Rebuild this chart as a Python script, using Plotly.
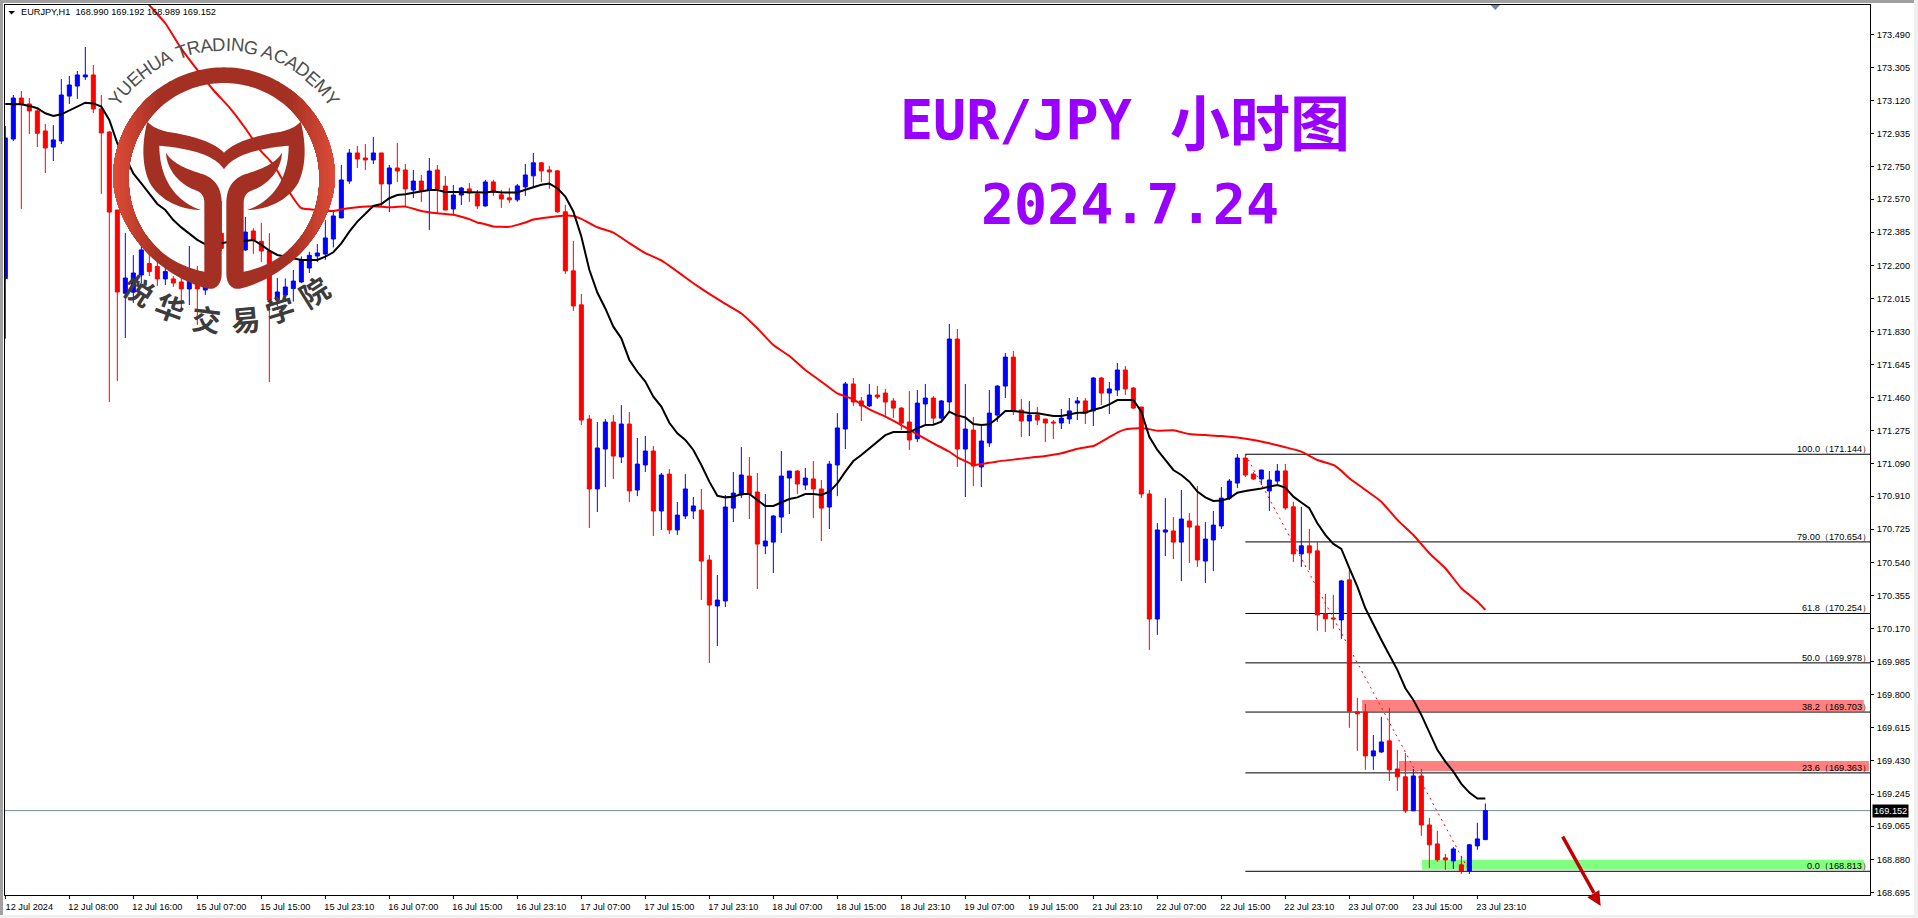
import numpy as np
import plotly.graph_objects as go

opens = [
172.126,172.906,173.135,173.102,173.063,172.951,172.861,172.895,173.146,173.202,
173.253,173.264,173.074,172.945,172.509,172.044,172.050,172.146,172.210,172.193,
172.124,172.124,172.107,172.068,172.118,172.062,172.240,172.379,172.380,172.330,
172.286,172.392,172.334,172.280,172.006,172.034,172.070,172.107,172.185,172.252,
172.263,172.347,172.465,172.671,172.828,172.800,172.789,172.828,172.655,172.744,
172.733,172.621,172.671,172.621,172.733,172.643,172.515,172.593,172.627,172.599,
172.532,172.666,172.594,172.577,172.566,172.638,172.700,172.773,172.733,172.728,
172.499,172.169,171.979,171.341,170.950,171.173,171.324,171.129,171.313,170.944,
171.084,171.162,170.827,171.033,170.721,170.799,170.827,170.832,170.553,170.296,
170.324,170.843,170.916,171.022,170.933,170.631,170.653,170.793,171.011,171.050,
170.972,171.006,170.950,170.849,171.084,171.285,171.537,171.442,171.414,171.475,
171.486,171.442,171.402,171.324,171.231,171.425,171.458,171.346,171.436,171.788,
171.173,171.279,171.073,171.207,171.363,171.525,171.687,171.391,171.330,171.363,
171.341,171.324,171.319,171.341,171.430,171.442,171.386,171.570,171.486,171.503,
171.615,171.514,171.408,170.922,170.223,170.709,170.715,170.653,170.771,170.743,
170.547,170.665,170.743,170.899,170.983,171.123,171.033,171.006,170.939,170.994,
171.051,170.850,170.587,170.632,170.604,170.252,170.229,170.218,170.442,169.704,
169.704,169.458,169.480,169.542,169.385,169.341,169.151,169.346,169.072,168.966,
168.888,168.871,168.849,168.815,168.955,168.990]

highs = [
172.979,173.152,173.174,173.135,173.074,172.990,172.984,173.241,173.258,173.286,
173.420,173.320,173.152,172.951,172.509,172.381,172.257,172.380,172.300,172.250,
172.200,172.140,172.130,172.308,172.196,172.118,172.360,172.560,172.440,172.450,
172.470,172.407,172.437,172.380,172.130,172.127,172.174,172.250,172.276,172.319,
172.453,172.509,172.761,172.850,172.867,172.878,172.917,172.828,172.761,172.884,
172.766,172.733,172.705,172.800,172.761,172.699,172.649,172.638,172.660,172.621,
172.678,172.678,172.622,172.633,172.655,172.767,172.828,172.778,172.756,172.733,
172.538,172.337,172.040,171.363,171.324,171.341,171.363,171.419,171.380,171.235,
171.246,171.190,171.039,171.061,170.877,171.033,170.905,170.950,170.581,170.469,
170.916,171.045,171.184,171.129,171.039,170.922,170.804,171.162,171.050,171.056,
171.067,171.106,171.000,171.106,171.374,171.548,171.570,171.464,171.537,171.525,
171.509,171.458,171.408,171.497,171.503,171.537,171.469,171.447,171.872,171.844,
171.537,171.352,171.302,171.503,171.531,171.710,171.721,171.453,171.442,171.408,
171.341,171.335,171.397,171.458,171.464,171.458,171.576,171.576,171.548,171.654,
171.637,171.520,171.408,170.944,170.760,170.899,170.793,170.944,170.816,170.966,
170.765,170.827,170.961,171.006,171.145,171.145,171.045,171.056,171.050,171.089,
171.090,170.878,170.850,170.727,170.654,170.363,170.358,170.442,170.497,169.782,
169.749,169.575,169.676,169.726,169.492,169.475,169.385,169.385,169.111,169.039,
168.910,168.949,168.899,168.966,169.084,169.192]

lows = [
171.790,172.895,172.515,172.934,172.861,172.716,172.783,172.878,173.102,173.130,
173.236,173.051,172.599,171.436,171.554,171.794,171.990,172.100,172.140,172.085,
172.090,172.080,171.950,171.978,171.867,172.034,172.200,172.280,172.300,172.280,
172.280,172.264,172.219,171.548,171.970,172.000,171.997,172.100,172.157,172.219,
172.230,172.300,172.463,172.655,172.744,172.733,172.766,172.526,172.498,172.666,
172.526,172.576,172.554,172.398,172.490,172.509,172.481,172.537,172.554,172.515,
172.527,172.588,172.521,172.549,172.555,172.588,172.638,172.666,172.627,172.493,
172.152,171.945,171.307,170.732,170.821,170.961,171.006,171.095,170.877,170.910,
171.045,170.687,170.721,170.698,170.693,170.782,170.782,170.329,169.977,170.072,
170.290,170.765,170.899,170.782,170.391,170.586,170.480,170.704,170.810,170.922,
170.944,170.788,170.659,170.726,170.910,171.173,171.414,171.330,171.408,171.453,
171.358,171.347,171.279,171.168,171.212,171.307,171.313,171.322,171.373,171.073,
170.905,170.966,170.961,171.184,171.324,171.458,171.363,171.240,171.246,171.307,
171.212,171.229,171.285,171.313,171.335,171.313,171.302,171.419,171.369,171.469,
171.475,171.397,170.899,170.050,170.134,170.575,170.558,170.435,170.536,170.514,
170.424,170.491,170.726,170.888,170.955,171.017,171.000,170.972,170.827,170.978,
170.833,170.542,170.514,170.498,170.157,170.151,170.168,170.112,169.615,169.486,
169.380,169.380,169.475,169.318,169.262,169.139,169.151,169.011,168.832,168.866,
168.821,168.826,168.798,168.798,168.933,168.989]

closes = [
172.912,173.135,173.102,173.063,172.938,172.856,172.901,173.152,173.208,173.264,
173.264,173.074,172.940,172.498,172.051,172.129,172.157,172.286,172.165,172.124,
172.165,172.101,172.068,172.118,172.068,172.079,172.300,172.295,172.330,172.400,
172.386,172.342,172.280,172.006,172.051,172.079,172.112,172.230,172.256,172.269,
172.353,172.476,172.677,172.828,172.794,172.789,172.828,172.655,172.744,172.727,
172.627,172.671,172.615,172.727,172.627,172.509,172.593,172.632,172.604,172.532,
172.666,172.610,172.571,172.566,172.644,172.705,172.773,172.728,172.722,172.499,
172.169,171.973,171.335,170.950,171.179,171.324,171.134,171.313,170.939,171.089,
171.162,170.827,171.028,170.721,170.804,170.950,170.855,170.547,170.301,170.329,
170.849,170.927,171.028,170.922,170.642,170.659,170.799,171.022,171.050,170.978,
171.011,170.950,170.843,171.089,171.291,171.537,171.436,171.414,171.475,171.464,
171.436,171.402,171.318,171.224,171.430,171.458,171.346,171.442,171.788,171.173,
171.285,171.078,171.218,171.374,171.525,171.687,171.386,171.330,171.363,171.335,
171.319,171.319,171.346,171.386,171.442,171.374,171.570,171.486,171.509,171.615,
171.509,171.402,170.922,170.223,170.721,170.721,170.653,170.782,170.737,170.553,
170.670,170.748,170.899,170.994,171.123,171.028,171.006,171.056,171.000,171.050,
170.844,170.587,170.632,170.593,170.246,170.224,170.224,170.436,169.708,169.693,
169.458,169.486,169.536,169.380,169.341,169.151,169.346,169.072,168.961,168.877,
168.877,168.938,168.815,168.961,168.994,169.152]

ma_fast = [
173.102,173.102,173.100,173.091,173.078,173.050,173.035,173.044,173.065,173.087,
173.109,173.105,173.087,173.012,172.882,172.807,172.714,172.658,172.602,172.543,
172.509,172.453,172.412,172.379,172.342,172.317,172.314,172.323,172.332,172.332,
172.338,172.342,172.314,172.282,172.258,172.249,172.239,172.230,172.230,172.230,
172.249,172.273,172.323,172.388,172.444,172.491,172.532,172.543,172.575,172.593,
172.597,172.606,172.612,172.621,172.621,172.610,172.610,172.610,172.606,172.606,
172.607,172.612,172.607,172.607,172.607,172.622,172.637,172.650,172.657,172.631,
172.584,172.501,172.361,172.175,172.048,171.959,171.857,171.792,171.671,171.605,
171.550,171.466,171.410,171.320,171.261,171.224,171.168,171.084,170.991,170.912,
170.903,170.907,170.922,170.922,170.888,170.855,170.855,170.873,170.894,170.903,
170.922,170.922,170.916,170.935,170.981,171.047,171.106,171.140,171.177,171.214,
171.251,171.268,171.268,171.268,171.289,171.307,171.309,171.326,171.382,171.360,
171.350,171.313,171.307,171.311,171.345,171.386,171.386,171.378,171.374,171.373,
171.365,171.358,171.358,171.369,171.376,171.376,171.393,171.404,171.423,171.447,
171.449,171.447,171.382,171.242,171.168,171.112,171.056,171.028,170.991,170.935,
170.903,170.883,170.885,170.898,170.929,170.939,170.944,170.953,170.963,170.972,
170.958,170.907,170.874,170.842,170.758,170.693,170.643,170.615,170.507,170.404,
170.283,170.190,170.106,170.022,169.939,169.836,169.771,169.687,169.585,169.492,
169.426,169.370,169.302,169.253,169.220,169.220]

ma_slow_idx = [14,18,20,22,24,26,28,30,32,33,34,35,36,37,39,41,42,44,46,48,50,52,54,56,57,58,59,60,61,63,64,65,66,68,69,70,71,72,
74,76,78,80,82,84,86,88,90,92,94,96,98,100,102,104,106,108,110,112,114,116,118,119,120,121,122,124,126,128,130,132,134,136,137,
139,140,142,144,146,148,150,152,154,156,158,160,162,164,166,167,168,170,172,174,176,178,180,182,184,185]
ma_slow = [173.900,173.655,173.553,173.411,173.292,173.180,173.083,172.966,172.835,172.789,172.729,172.649,172.575,172.519,172.509,172.504,172.513,172.524,172.530,172.524,172.528,172.504,172.491,172.482,172.471,172.458,172.439,172.430,172.417,172.415,172.426,172.439,172.456,172.469,172.474,172.478,172.476,172.460,
172.413,172.383,172.324,172.268,172.227,172.165,172.100,172.040,171.984,171.931,171.848,171.754,171.693,171.615,171.550,171.484,171.451,171.395,171.354,171.307,171.255,171.205,171.158,171.127,171.106,171.084,171.088,171.104,171.114,171.125,171.134,171.149,171.175,171.190,171.214,
171.265,171.283,171.291,171.276,171.278,171.257,171.251,171.246,171.237,171.224,171.205,171.183,171.159,171.112,171.084,171.051,171.010,170.945,170.879,170.777,170.693,170.591,170.507,170.395,170.321,170.274]

fib_labels = ["100.0", "79.00", "61.8", "50.0", "38.2", "23.6", "0.0"]
fib_levels = [171.144, 170.654, 170.254, 169.978, 169.703, 169.363, 168.813]
fib_start = 155
fib_trend_idx = [155, 183]
fib_trend_val = [171.144, 168.813]

zone_x0 = [169.6, 174.2, 177.1]
zone_x1 = [232.3, 232.95, 232.3]
zone_lo = [169.708, 169.374, 168.821]
zone_hi = [169.771, 169.430, 168.877]
zone_col = ["#FF8080", "#FF8080", "#80FF80"]

bid = 169.152
header = "EURJPY,H1  168.990 169.192 168.989 169.152"

y_ticks = [173.490,173.305,173.120,172.935,172.750,172.570,172.385,172.200,172.015,171.830,171.645,171.460,171.275,171.090,
           170.910,170.725,170.540,170.355,170.170,169.985,169.800,169.615,169.430,169.245,169.065,168.880,168.695]
x_labels = ["12 Jul 2024","12 Jul 08:00","12 Jul 16:00","15 Jul 07:00","15 Jul 15:00","15 Jul 23:10","16 Jul 07:00","16 Jul 15:00",
            "16 Jul 23:10","17 Jul 07:00","17 Jul 15:00","17 Jul 23:10","18 Jul 07:00","18 Jul 15:00","18 Jul 23:10","19 Jul 07:00",
            "19 Jul 15:00","21 Jul 23:10","22 Jul 07:00","22 Jul 15:00","22 Jul 23:10","23 Jul 07:00","23 Jul 15:00","23 Jul 23:10"]
x_tick_step = 8

# layout geometry
W, H = 1918, 918
L, R, T, B = 5, 1870, 5, 895
xr = [-0.04, 233.08]
yr = [168.6805, 173.655]
PURPLE = "#9900FF"
AXFONT = "Liberation Sans"
AXSIZE = 9.2

def px(x): return (x - L) / (R - L)
def py(y): return (B - y) / (B - T)
def path_px(pts):
    return "M" + " L".join(f"{px(a):.5f},{py(b):.5f}" for a, b in pts) + " Z"

fig = go.Figure()
idx = list(range(len(opens)))
fig.add_trace(go.Candlestick(x=idx, open=opens, high=highs, low=lows, close=closes,
    increasing=dict(line=dict(color="#0000FF", width=1), fillcolor="#0000FF"),
    decreasing=dict(line=dict(color="#FF0000", width=1), fillcolor="#FF0000"),
    whiskerwidth=0, hoverinfo="skip", showlegend=False))
fig.add_trace(go.Scatter(x=ma_slow_idx, y=ma_slow, mode="lines", line=dict(color="#FF0000", width=2, shape="spline", smoothing=0.4), hoverinfo="skip", showlegend=False))
fig.add_trace(go.Scatter(x=idx, y=ma_fast, mode="lines", line=dict(color="#000000", width=2), hoverinfo="skip", showlegend=False))
fig.add_trace(go.Scatter(x=fib_trend_idx, y=fib_trend_val, mode="lines", line=dict(color="#FF0000", width=1, dash="2px,4px"), hoverinfo="skip", showlegend=False))

shapes = []
for x0, x1, a, b, c in zip(zone_x0, zone_x1, zone_lo, zone_hi, zone_col):
    shapes.append(dict(type="rect", x0=x0, x1=x1, y0=a, y1=b, xref="x", yref="y", fillcolor=c, line_width=0, layer="below"))
for lv in fib_levels:
    shapes.append(dict(type="line", x0=fib_start, x1=xr[1], y0=lv, y1=lv, xref="x", yref="y", line=dict(color="#000000", width=1), layer="below"))
shapes.append(dict(type="line", x0=xr[0], x1=xr[1], y0=bid, y1=bid, xref="x", yref="y", line=dict(color="#778899", width=1), layer="below"))

# --- window chrome
for (a, b, c, d, col) in [(0, 0, W, 3, "#A0A0A0"), (0, 0, 3, 915, "#A0A0A0"), (0, 915, W, H, "#F0F0F0"), (1914, 0, W, H, "#F0F0F0")]:
    shapes.append(dict(type="rect", xref="paper", yref="paper", x0=px(a), x1=px(c), y0=py(b), y1=py(d), fillcolor=col, line_width=0, layer="above"))
shapes.append(dict(type="path", xref="paper", yref="paper", path=path_px([(1490.5, 5), (1500, 5), (1495.3, 10)]), fillcolor="#778899", line_width=0))
shapes.append(dict(type="path", xref="paper", yref="paper", path=path_px([(8.3, 11), (15, 11), (11.6, 14.5)]), fillcolor="#000000", line_width=0))

# --- down arrow
shapes.append(dict(type="line", xref="paper", yref="paper", x0=px(1562.7), y0=py(836.7), x1=px(1594), y1=py(893), line=dict(color="#C00000", width=3.5)))
shapes.append(dict(type="path", xref="paper", yref="paper", path=path_px([(1587.3, 897.3), (1599.3, 890), (1600.7, 906)]), fillcolor="#C00000", line_width=0))

# --- academy logo, drawn in 3x zoom units around centre line x=672
def Zp(a, b): return (a / 3.0, b / 3.0)
def bez(p0, p1, p2, p3, n=24):
    t = np.linspace(0, 1, n)[:, None]
    p0, p1, p2, p3 = map(np.array, (p0, p1, p2, p3))
    return (1-t)**3*p0 + 3*(1-t)**2*t*p1 + 3*(1-t)*t**2*p2 + t**3*p3
def chain(start, *segs):
    out = [np.array([start], dtype=float)]
    cur = start
    for s in segs:
        out.append(bez(cur, s[0], s[1], s[2])[1:])
        cur = s[2]
    return np.vstack(out)
CX, CY, RO, RI = 672, 535, 333, 286
def arc(r, a0, a1, n=50):
    th = np.radians(np.linspace(a0, a1, n))
    return np.c_[CX - r*np.sin(th), CY - r*np.cos(th)]
outer = np.vstack([arc(RO, 0, 90), chain((339, 535), ((345, 680), (470, 830), (625, 866)))])
tail = chain((625, 866), ((650, 870), (665, 850), (665, 820)))
inner = np.vstack([arc(RI, 0, 90), chain((386, 535), ((386, 680), (480, 790), (613, 815)))])
stem_right = np.array([[665, 820], [665, 610]], dtype=float)
stem_top = chain((665, 610), ((665, 570), (650, 540), (615, 525)), ((570, 510), (520, 495), (498, 458)), ((500, 510), (540, 555), (590, 572)), ((605, 578), (613, 590), (613, 610)))
half_ring = np.vstack([outer, tail[1:], stem_right[1:], stem_top[1:], [[613, 815]], inner[::-1]])
wing = chain((672, 458), ((640, 425), (580, 410), (530, 400)), ((490, 395), (460, 385), (442, 365)), ((425, 430), (425, 500), (450, 550)), ((480, 600), (540, 630), (603, 630)),
             ((540, 610), (478, 550), (478, 437)), ((560, 445), (640, 460), (672, 508)))
BASE = "#A33022"
def mir(p): return np.c_[2*CX - p[:, 0], p[:, 1]]
def add_logo(pts, col):
    shapes.append(dict(type="path", xref="paper", yref="paper", path=path_px([Zp(a, b) for a, b in pts]), fillcolor=col, line_width=0, layer="above"))
for shape in (half_ring, mir(half_ring), wing, mir(wing)):
    add_logo(shape, BASE)
# lighter edge on both sides of the ring
c0, c1 = np.array([0xA3, 0x30, 0x22]), np.array([0xE0, 0x4C, 0x3A])
steps = 14
for k in range(steps):
    b = 480 - k*(480-345)/(steps-1)
    col = c0 + (c1-c0)*(k+1)/steps
    col = "#%02X%02X%02X" % tuple(int(v) for v in col)
    o = outer[outer[:, 0] <= b]
    i_ = inner[inner[:, 0] <= b]
    poly = np.vstack([o, i_[::-1]]) if len(i_) else o
    add_logo(poly, col)
    add_logo(mir(poly), col)

ann = []
# logo texts
arc_text = "YUEHUA TRADING ACADEMY"
adv = dict(zip("YUEHATRDINGCM ", [.667,.722,.667,.722,.667,.611,.722,.722,.278,.722,.778,.722,.833,.278]))
ws = np.array([adv[c] for c in arc_text]) * 18.5
pos = np.cumsum(ws) - ws/2
pos = pos - (pos[0] + pos[-1]) / 2
RTXT = 134.0
for ch, s in zip(arc_text, pos):
    if ch == " ":
        continue
    th = s / RTXT
    ann.append(dict(text=ch, xref="paper", yref="paper", x=px(CX/3 + RTXT*np.sin(th)), y=py(CY/3 - RTXT*np.cos(th)), showarrow=False, xanchor="center", yanchor="middle",
                    textangle=float(np.degrees(th)), font=dict(family="Liberation Sans", size=18.5, color="#505050")))
for ch, zx, zy, ang in [("悦", 418, 868, 33), ("华", 510, 918, 20), ("交", 620, 953, 7), ("易", 735, 953, -5), ("学", 838, 923, -17), ("院", 940, 873, -32)]:
    ann.append(dict(text=f"<b>{ch}</b>", xref="paper", yref="paper", x=px(zx/3), y=py(zy/3), showarrow=False, xanchor="center", yanchor="middle",
                    textangle=ang, font=dict(family="Noto Sans CJK SC", size=29, color="#3C3C3C")))
# heading
ann.append(dict(text="<b>EUR/JPY</b>", xref="paper", yref="paper", x=px(1016), y=py(120), showarrow=False, xanchor="center", yanchor="middle",
                font=dict(family="DejaVu Sans Mono", size=55, color=PURPLE)))
ann.append(dict(text="<b>小时图</b>", xref="paper", yref="paper", x=px(1260), y=py(119), showarrow=False, xanchor="center", yanchor="middle",
                font=dict(family="Noto Sans CJK SC", size=60, color=PURPLE)))
ann.append(dict(text="<b>2024.7.24</b>", xref="paper", yref="paper", x=px(1130), y=py(204), showarrow=False, xanchor="center", yanchor="middle",
                font=dict(family="DejaVu Sans Mono", size=55, color=PURPLE)))
# header
ann.append(dict(text=header, xref="paper", yref="paper", x=px(20), y=py(12.5), showarrow=False, xanchor="left", yanchor="middle", borderpad=0,
                font=dict(family=AXFONT, size=AXSIZE, color="#000000")))
# fib labels
for lab, lv in zip(fib_labels, fib_levels):
    ann.append(dict(text=f"{lab}（{lv:.3f}）", xref="paper", yref="y", x=px(1871), y=lv, showarrow=False, xanchor="right", yanchor="bottom", borderpad=0, borderwidth=0,
                    font=dict(family=AXFONT, size=AXSIZE, color="#000000")))
# bid tag
ann.append(dict(text=f"{bid:.3f}", xref="paper", yref="y", x=px(1872), y=bid, showarrow=False, xanchor="left", yanchor="middle", bgcolor="#000000", borderpad=1,
                font=dict(family=AXFONT, size=AXSIZE, color="#FFFFFF")))

fig.update_layout(
    width=W, height=H, margin=dict(l=L, r=W-R, t=T, b=H-B, pad=0),
    paper_bgcolor="#FFFFFF", plot_bgcolor="#FFFFFF", showlegend=False, boxgap=0.5, boxgroupgap=0, dragmode=False,
    shapes=shapes, annotations=ann,
    xaxis=dict(range=xr, rangeslider=dict(visible=False), showgrid=False, zeroline=False, showline=True, linecolor="#000000", linewidth=1, mirror=True,
               ticks="outside", ticklen=3, tickcolor="#000000", tickwidth=1,
               tickmode="array", tickvals=[i*x_tick_step for i in range(len(x_labels))], ticktext=x_labels, tickangle=0,
               ticklabelshift=24, ticklabelstandoff=0, tickfont=dict(family=AXFONT, size=AXSIZE, color="#000000")),
    yaxis=dict(range=yr, side="right", showgrid=False, zeroline=False, showline=True, linecolor="#000000", linewidth=1, mirror=True,
               ticks="outside", ticklen=3, tickcolor="#000000", tickwidth=1,
               tickmode="array", tickvals=y_ticks, ticktext=[f"{v:.3f}" for v in y_ticks],
               ticklabelstandoff=1, tickfont=dict(family=AXFONT, size=AXSIZE, color="#000000")),
)
fig.write_html("out.html", config=dict(displayModeBar=False),
               post_script="document.body.style.margin='0';document.documentElement.style.overflow='hidden';")
